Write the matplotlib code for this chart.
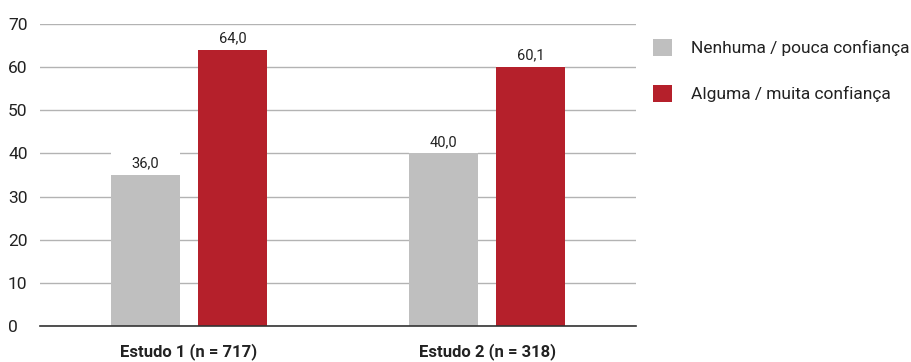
import matplotlib.pyplot as plt
from matplotlib.patches import Patch

plt.rcParams['font.family'] = ['Roboto', 'DejaVu Sans']

# data
groups = ["Estudo 1 (n = 717)", "Estudo 2 (n = 318)"]
series = ["Nenhuma / pouca confiança", "Alguma / muita confiança"]
low_conf = [35.0, 40.0]
high_conf = [64.0, 60.1]
low_labels = ["36,0", "40,0"]
high_labels = ["64,0", "60,1"]
colors = ["#bfbfbf", "#b5202b"]

fig = plt.figure(figsize=(9.11, 3.62), dpi=100)
ax = fig.add_axes([0.0439, 0.0994, 0.6543, 0.8343])

x = list(range(len(groups)))
w = 0.231
off = 0.147

for vals, labs, col, sign in [(low_conf, low_labels, colors[0], -1),
                              (high_conf, high_labels, colors[1], 1)]:
    pos = [i + sign * off for i in x]
    ax.bar(pos, vals, width=w, color=col, zorder=3)
    # white strip behind the value label hides the grid line
    ax.bar(pos, 5.6, width=w, bottom=vals, color="white", zorder=2)
    for p, v, t in zip(pos, vals, labs):
        ax.text(p, v + 1.0, t, ha="center", va="bottom", fontsize=10.5,
                color="#222222", zorder=4)

ax.set_xlim(-0.5, 1.5)
ax.set_ylim(0, 70)
ax.set_yticks(range(0, 71, 10))
ax.yaxis.grid(True, color="#b3b3b3", linewidth=1.0, zorder=1)
ax.set_axisbelow(True)
ax.tick_params(axis="y", length=0, pad=23, labelsize=12.5, labelcolor="#222222")
ax.tick_params(axis="x", length=0, pad=12)
ax.set_xticks(x)
ax.set_xticklabels(groups, fontsize=12, fontweight="bold", color="#222222")
for lab in ax.get_yticklabels():
    lab.set_horizontalalignment("left")
for s in ["top", "right", "left"]:
    ax.spines[s].set_visible(False)
ax.spines["bottom"].set_color("#333333")
ax.spines["bottom"].set_linewidth(1.2)
ax.spines["bottom"].set_zorder(5)

handles = [Patch(facecolor=c, edgecolor="none") for c in colors]
fig.legend(handles, series, loc="upper left", bbox_to_anchor=(0.717, 0.892),
           frameon=False, fontsize=12.5, handlelength=1.1, handleheight=1.1,
           handletextpad=1.1, labelspacing=1.65, borderaxespad=0,
           borderpad=0, labelcolor="#222222")

fig.savefig("out.png", dpi=100)
